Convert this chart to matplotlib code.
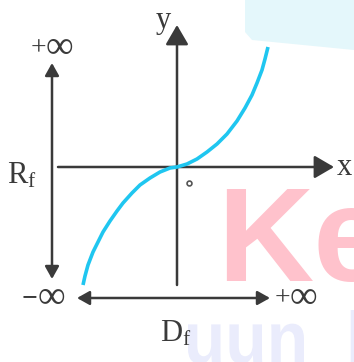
import matplotlib.pyplot as plt
from matplotlib.textpath import TextPath
from matplotlib.patches import PathPatch, Polygon
from matplotlib.font_manager import FontProperties
from matplotlib.transforms import Affine2D

plt.rcParams['mathtext.fontset'] = 'custom'
plt.rcParams['mathtext.rm'] = 'Liberation Serif'

# curve (origin at the axes crossing, y up)
curve_x = [-94, -92, -89, -84, -79, -74, -67, -60, -54, -45, -37, -27, -17, -7, 0,
           10, 20, 30, 40, 50, 60, 68, 75, 80, 85, 88, 91]
curve_y = [-118, -109, -98, -85, -75, -65, -54, -44, -36, -26, -18, -11, -5, -1, 0,
           3, 8, 15, 23, 33, 46, 59, 72, 84, 97, 108, 120]

axis_labels = ['x', 'y']
range_label = 'R_f'
domain_label = 'D_f'
signs = ['+', '−']
inf = '∞'

dark = '#3a3a3a'
cyan = '#1fc6f0'
serif = 'Liberation Serif'

fig = plt.figure(figsize=(3.54, 3.62), dpi=100)
ax = fig.add_axes([0, 0, 1, 1])
ax.set_xlim(-177, 177)
ax.set_ylim(-195, 167)
ax.axis('off')

# watermark bits
ax.add_patch(Polygon([(68, 167), (177, 167), (177, 117), (75, 127), (68, 135)],
                     closed=True, fc='#e4f7fb', ec='none', zorder=0))
ax.text(40, -114, 'Ke', fontsize=96, fontweight='bold', family='Liberation Sans',
        color='#ffc2cc', ha='left', va='baseline', zorder=0)
tp = TextPath((0, 0), 'uun_l', size=10, prop=FontProperties(family='Liberation Sans', weight='bold'))
ext = tp.get_extents()
sx = (360 - 188) / ext.width
sy = 62 / ext.height
tr = Affine2D().translate(-ext.x0, -ext.y0).scale(sx, sy).translate(188 - 177, 167 - 372)
ax.add_patch(PathPatch(tr.transform_path(tp), fc='#eaecfc', ec='none', zorder=0))

# main axes
head = dict(arrowstyle='-|>,head_length=1.2,head_width=0.7', mutation_scale=10,
            lw=1.8, color=dark, shrinkA=0, shrinkB=0)
ax.annotate('', xy=(0, 142), xytext=(0, -118), arrowprops=head)
ax.annotate('', xy=(157, 0), xytext=(-119, 0), arrowprops=head)

# range / domain arrows
dbl = dict(arrowstyle='<|-|>,head_length=0.75,head_width=0.42', mutation_scale=10,
           lw=1.8, color=dark, shrinkA=0, shrinkB=0)
ax.annotate('', xy=(-125, 104), xytext=(-125, -112), arrowprops=dbl)
ax.annotate('', xy=(93, -131), xytext=(-100, -131), arrowprops=dbl)

ax.plot(curve_x, curve_y, color=cyan, lw=2.6, solid_capstyle='butt',
        solid_joinstyle='round', zorder=3)
ax.plot([12], [-16], marker='o', ms=3.5, mfc='white', mec='#555555', mew=1.2)

ax.text(167, -8, axis_labels[0], fontsize=22, family=serif, color=dark, ha='center', va='baseline')
ax.text(-14, 139, axis_labels[1], fontsize=22, family=serif, color=dark, ha='center', va='baseline')
ax.text(-170, -17, r'$\mathrm{%s}$' % range_label, fontsize=22, color=dark, ha='left', va='baseline')
ax.text(-17, -175, r'$\mathrm{%s}$' % domain_label, fontsize=22, color=dark, ha='left', va='baseline')

# infinity labels: sign on the left, big infinity on the right of a join point
def inf_label(x_join, y, sign, bold=False):
    ax.text(x_join, y - 1, sign, fontsize=20, family=serif, color=dark,
            fontweight='bold' if bold else 'normal', ha='right', va='center')
    ax.text(x_join, y, inf, fontsize=28, family=serif, color=dark, ha='left', va='center')

inf_label(-131, 119, signs[0])
inf_label(113, -131, signs[0])
inf_label(-139.5, -131, signs[1], bold=True)

fig.savefig('out.png', dpi=100)
